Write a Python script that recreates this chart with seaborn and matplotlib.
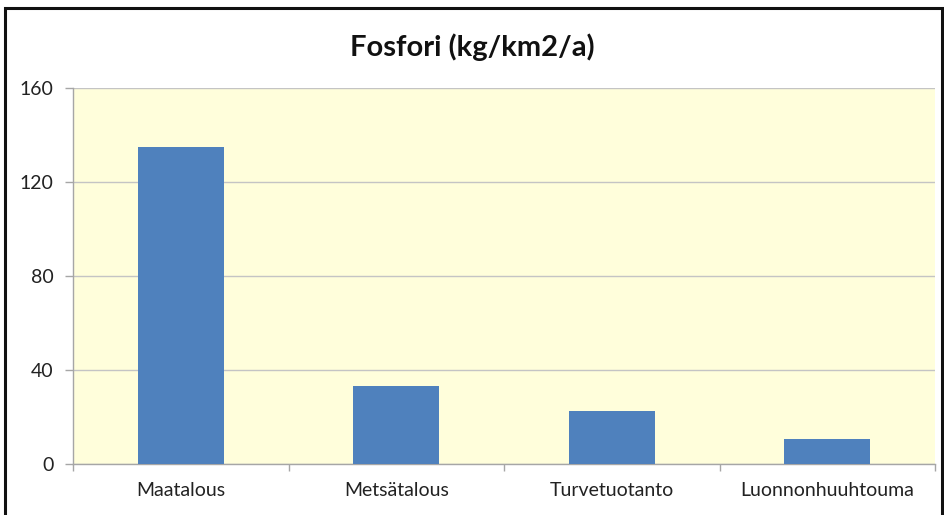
import matplotlib
matplotlib.use("Agg")
import matplotlib.pyplot as plt
import seaborn as sns
import pandas as pd
from matplotlib.patches import Rectangle

categories = ["Maatalous", "Metsätalous", "Turvetuotanto", "Luonnonhuuhtouma"]
values = [135, 33, 22.5, 10.5]
y_ticks = [0, 40, 80, 120, 160]
title = "Fosfori (kg/km2/a)"

df = pd.DataFrame({"lahde": categories, "fosfori": values})

sns.set_theme(style="white")
plt.rcParams["font.family"] = ["Lato", "DejaVu Sans"]

fig = plt.figure(figsize=(9.44, 5.15), dpi=100)
ax = fig.add_axes([73 / 944, 51 / 515, 862 / 944, 376 / 515])

sns.barplot(data=df, x="lahde", y="fosfori", color="#4F81BD", saturation=1,
            width=0.4, edgecolor="none", linewidth=0, ax=ax, zorder=3)

ax.set_facecolor("#FFFEDB")
ax.set_ylim(0, 160)
ax.set_xlim(-0.5, len(categories) - 0.5)
ax.set_yticks(y_ticks)
ax.set_yticklabels([str(t) for t in y_ticks], fontsize=14, color="#222222")
ax.yaxis.grid(True, color="#C4C4C4", linewidth=1, zorder=0)
ax.set_axisbelow(True)
ax.set_xlabel("")
ax.set_ylabel("")
ax.tick_params(axis="x", labelsize=14, colors="#222222", length=0, pad=13)
ax.tick_params(axis="y", left=True, length=6, color="#A6A6A6", width=1, pad=8)

for side in ["top", "right"]:
    ax.spines[side].set_visible(False)
for side in ["left", "bottom"]:
    ax.spines[side].set_color("#A6A6A6")
    ax.spines[side].set_linewidth(1)

# category boundary ticks below the baseline
ax.set_xticks([i - 0.5 for i in range(len(categories) + 1)], minor=True)
ax.tick_params(axis="x", which="minor", bottom=True, length=5, color="#A6A6A6", width=1)

fig.text(0.5, 1 - 47 / 515, title, ha="center", va="center",
         fontsize=21, fontweight="bold", color="#111111")

# outer chart border
fig.patches.append(Rectangle((5 / 944, -0.05), 937 / 944, 1 - 8 / 515 + 0.05,
                             transform=fig.transFigure, fill=False,
                             edgecolor="#111111", linewidth=2.2))

fig.savefig("out.png", dpi=100, facecolor="white")
